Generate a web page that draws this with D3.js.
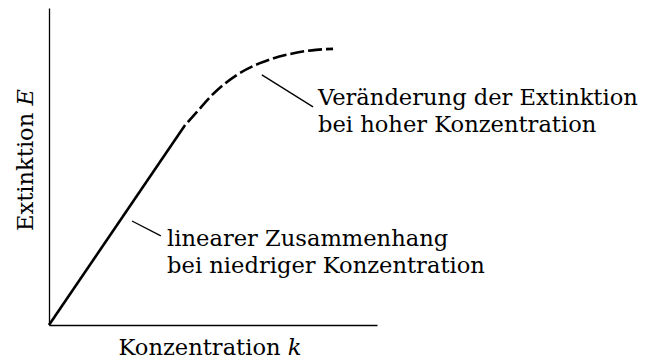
<!DOCTYPE html>
<html>
<head>
<meta charset="utf-8">
<script src="https://cdn.jsdelivr.net/npm/d3@7"></script>
<style>
  html, body { margin: 0; padding: 0; background: #fff; }
  svg { display: block; }
  text { font-family: "DejaVu Serif", "Liberation Serif", serif; fill: #000; }
</style>
</head>
<body>
<svg id="chart" width="647" height="360"></svg>
<script>
// ---- data (arbitrary units: concentration k, extinction E) ----
const solidK = [0, 4.15];
const solidE = [0, 6.31];
const dashedK = [4.15, 4.51, 4.91, 5.73, 6.43, 7.35, 8.14, 8.66];
const dashedE = [6.31, 6.72, 7.19, 7.89, 8.26, 8.55, 8.68, 8.71];
const annotationLines = [
  "Veränderung der Extinktion|bei hoher Konzentration",
  "linearer Zusammenhang|bei niedriger Konzentration"
];
const leaderFromK = [6.49, 2.53];
const leaderFromE = [7.89, 3.28];
const leaderToK = [8.05, 3.41];
const leaderToE = [6.88, 2.81];
const labelK = [8.20, 3.60];
const labelE = [6.94, 2.49];
const xTitle = "Konzentration";
const xVar = "k";
const yTitle = "Extinktion";
const yVar = "E";

// ---- layout ----
const svg = d3.select("#chart");
const x0 = 49, x1 = 377, y0 = 325, y1 = 8;
const x = d3.scaleLinear().domain([0, 10]).range([x0, x1]);
const y = d3.scaleLinear().domain([0, 10]).range([y0, y1]);
const fs = 22.6;

// axes (plain lines, no ticks)
svg.append("g").attr("transform", `translate(0,${y0})`)
  .call(d3.axisBottom(x).tickValues([]).tickSizeOuter(0))
  .call(g => g.select(".domain").attr("stroke", "#000").attr("stroke-width", 1.3));
svg.append("g").attr("transform", `translate(${x0},0)`)
  .call(d3.axisLeft(y).tickValues([]).tickSizeOuter(0))
  .call(g => g.select(".domain").attr("stroke", "#000").attr("stroke-width", 1.3));

// curves
const solid = solidK.map((k, i) => [k, solidE[i]]);
const dashed = dashedK.map((k, i) => [k, dashedE[i]]);
const line = d3.line().x(d => x(d[0])).y(d => y(d[1]));
svg.append("path").attr("d", line(solid))
  .attr("fill", "none").attr("stroke", "#000").attr("stroke-width", 2.6)
  .attr("stroke-linecap", "butt");
svg.append("path").attr("d", line.curve(d3.curveMonotoneX)(dashed))
  .attr("fill", "none").attr("stroke", "#000").attr("stroke-width", 2.6)
  .attr("stroke-dasharray", "0,4,14,4,14,4,14,4,14,4,14,4,14,4,14,4,14,4,14,4,14,4,14,4,14");

// leaders and labels
annotationLines.forEach((txt, i) => {
  svg.append("line")
    .attr("x1", x(leaderFromK[i])).attr("y1", y(leaderFromE[i]))
    .attr("x2", x(leaderToK[i])).attr("y2", y(leaderToE[i]))
    .attr("stroke", "#000").attr("stroke-width", 1.3);
  const t = svg.append("text")
    .attr("x", x(labelK[i])).attr("y", y(labelE[i]))
    .attr("font-size", fs);
  txt.split("|").forEach((s, j) => {
    t.append("tspan").attr("x", x(labelK[i])).attr("dy", j === 0 ? 0 : 26.5).text(s);
  });
});

// axis titles
const xt = svg.append("text").attr("x", 210).attr("y", 355)
  .attr("text-anchor", "middle").attr("font-size", fs);
xt.append("tspan").text(xTitle + " ");
xt.append("tspan").attr("font-style", "italic").text(xVar);

const yt = svg.append("text").attr("transform", "translate(33,160) rotate(-90)")
  .attr("text-anchor", "middle").attr("font-size", fs);
yt.append("tspan").text(yTitle + " ");
yt.append("tspan").attr("font-style", "italic").text(yVar);
</script>
</body>
</html>
